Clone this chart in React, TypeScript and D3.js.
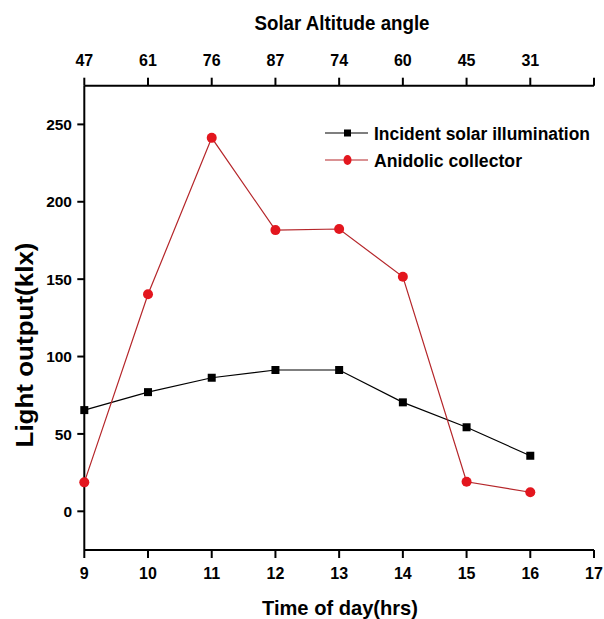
import React from 'react';
import * as d3 from 'd3';

const hours = [9, 10, 11, 12, 13, 14, 15, 16];
const incident = [65.4, 77, 86.3, 91.3, 91.3, 70.4, 54.3, 35.9];
const anidolic = [18.7, 140.2, 241.3, 181.7, 182.4, 151.5, 19.1, 12.3];
const altitudeLabels = ['47', '61', '76', '87', '74', '60', '45', '31'];
const xTicks = [9, 10, 11, 12, 13, 14, 15, 16, 17];
const yTicks = [0, 50, 100, 150, 200, 250];
const seriesNames = ['Incident solar illumination', 'Anidolic collector'];

const W = 604;
const H = 619;
const FONT = '"Liberation Sans", Arial, Helvetica, sans-serif';

export default function App() {
  const x = d3.scaleLinear().domain([9, 17]).range([84.3, 594]);
  const y = d3.scaleLinear().domain([-25, 275]).range([550, 85.7]);
  const left = x(9);
  const right = x(17);
  const top = y(275);
  const bottom = y(-25);

  const lineGen = d3
    .line<number>()
    .x((_, i) => x(hours[i]))
    .y((d) => y(d));

  const redLine = '#b5262a';
  const redFill = '#e3161e';

  return (
    <svg
      width={W}
      height={H}
      style={{ position: 'absolute', left: 0, top: 0, background: '#fff' }}
      fontFamily={FONT}
      fontWeight="bold"
    >
      <rect x={0} y={0} width={W} height={H} fill="#fff" />

      {/* Top axis title */}
      <text x={342} y={30} textAnchor="middle" fontSize={20} textLength={175} lengthAdjust="spacingAndGlyphs">
        Solar Altitude angle
      </text>

      {/* Top axis */}
      <line x1={left} x2={right} y1={top} y2={top} stroke="#000" strokeWidth={2} />
      {xTicks.map((t) => (
        <line key={'tt' + t} x1={x(t)} x2={x(t)} y1={top} y2={top - 8} stroke="#000" strokeWidth={2} />
      ))}
      {altitudeLabels.map((lab, i) => (
        <text key={'tl' + i} x={x(hours[i])} y={66} textAnchor="middle" fontSize={16}>
          {lab}
        </text>
      ))}

      {/* Bottom axis */}
      <line x1={left} x2={right} y1={bottom} y2={bottom} stroke="#000" strokeWidth={2} />
      {xTicks.map((t) => (
        <line key={'bt' + t} x1={x(t)} x2={x(t)} y1={bottom} y2={bottom + 8} stroke="#000" strokeWidth={2} />
      ))}
      {xTicks.map((t) => (
        <text key={'bl' + t} x={x(t)} y={578.5} textAnchor="middle" fontSize={16}>
          {t}
        </text>
      ))}
      <text x={340} y={615} textAnchor="middle" fontSize={21} textLength={156} lengthAdjust="spacingAndGlyphs">
        Time of day(hrs)
      </text>

      {/* Left axis */}
      <line x1={left} x2={left} y1={top} y2={bottom} stroke="#000" strokeWidth={2} />
      {yTicks.map((t) => (
        <line key={'lt' + t} x1={left} x2={left - 7} y1={y(t)} y2={y(t)} stroke="#000" strokeWidth={2} />
      ))}
      {yTicks.map((t) => (
        <text key={'ll' + t} x={72} y={y(t)} dy="0.36em" textAnchor="end" fontSize={15.5}>
          {t}
        </text>
      ))}
      <text
        transform={`translate(33, 345) rotate(-90)`}
        textAnchor="middle"
        fontSize={23}
        textLength={205}
        lengthAdjust="spacingAndGlyphs"
      >
        Light output(klx)
      </text>

      {/* Series lines */}
      <path d={lineGen(incident) || ''} fill="none" stroke="#000" strokeWidth={1.2} />
      <path d={lineGen(anidolic) || ''} fill="none" stroke={redLine} strokeWidth={1.2} />

      {incident.map((v, i) => (
        <rect key={'sq' + i} x={x(hours[i]) - 4} y={y(v) - 4} width={8} height={8} fill="#000" />
      ))}
      {anidolic.map((v, i) => (
        <circle key={'ci' + i} cx={x(hours[i])} cy={y(v)} r={5} fill={redFill} />
      ))}

      {/* Legend */}
      <line x1={325} x2={368} y1={133} y2={133} stroke="#000" strokeWidth={1.2} />
      <rect x={344} y={129.5} width={7} height={7} fill="#000" />
      <text x={374} y={139.5} fontSize={17.5} textLength={216} lengthAdjust="spacingAndGlyphs">
        {seriesNames[0]}
      </text>
      <line x1={325} x2={368} y1={160} y2={160} stroke={redLine} strokeWidth={1.2} />
      <ellipse cx={347.5} cy={160} rx={4} ry={5} fill={redFill} />
      <text x={374} y={166.5} fontSize={17.5} textLength={148} lengthAdjust="spacingAndGlyphs">
        {seriesNames[1]}
      </text>
    </svg>
  );
}
